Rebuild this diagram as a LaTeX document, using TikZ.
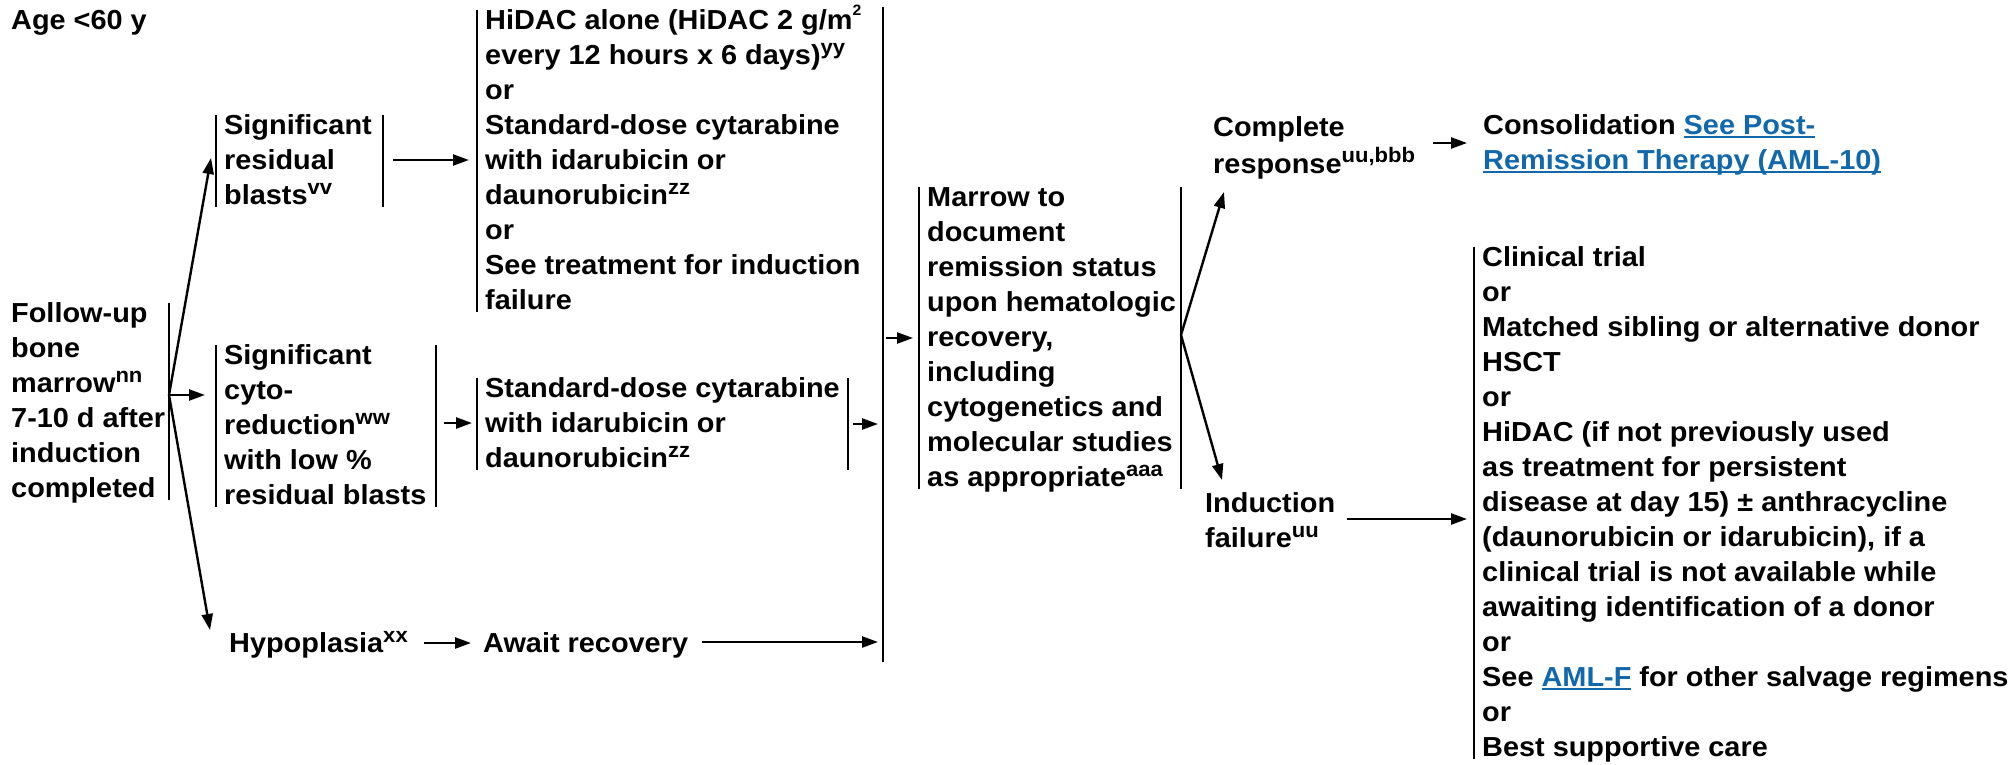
\documentclass[tikz,border=0pt]{standalone}
\usepackage{fontspec}
\setmainfont{Liberation Sans}[FakeStretch=1.05]
\usetikzlibrary{arrows.meta}
\definecolor{linkblue}{RGB}{18,104,172}
\newcommand\su[1]{\raisebox{0.37em}{\fontsize{21}{21}\selectfont #1}}
\newcommand\sq[1]{\raisebox{0.5em}{\fontsize{15}{15}\selectfont #1}}
\newsavebox\lkbox
\newcommand\lk[1]{\sbox\lkbox{\color{linkblue}#1}{\color{linkblue}\rlap{\rule[-4pt]{\wd\lkbox}{1.8pt}}}\usebox\lkbox}
\begin{document}
\begin{tikzpicture}[x=1pt,y=-1pt,
  every node/.style={font=\fontsize{27.5}{35}\selectfont\bfseries, inner xsep=8pt, inner ysep=0pt, align=left, anchor=north west},
  bar/.style={line width=2.4pt},
  arr/.style={line width=2.4pt, -{Triangle[length=16pt,width=11pt]}}]
\useasboundingbox (0,0) rectangle (2013,765);
% nodes
\node (age) at (3,4.5) {\strut Age <60 y\strut};
\node (fu) at (3,297.5) {\strut Follow-up\\bone\\marrow\su{nn}\\7-10 d after\\induction\\completed\strut};
\node (sig1) at (216,109.5) {\strut Significant\\residual\\blasts\su{vv}\strut};
\node (sig2) at (216,339.5) {\strut Significant\\cyto-\\reduction\su{ww}\\with low \%\\residual blasts\strut};
\node (hypo) at (221,627.5) {\strut Hypoplasia\su{xx}\strut};
\node (hidac) at (477,4.5) {\strut HiDAC alone (HiDAC 2 g/m\sq{2}\\every 12 hours x 6 days)\su{yy}\\or\\Standard-dose cytarabine\\with idarubicin or\\daunorubicin\su{zz}\\or\\See treatment for induction\\failure\strut};
\node (std2) at (477,372.5) {\strut Standard-dose cytarabine\\with idarubicin or\\daunorubicin\su{zz}\strut};
\node (await) at (475,627.5) {\strut Await recovery\strut};
\node (mar) at (919,181.5) {\strut Marrow to\\document\\remission status\\upon hematologic\\recovery,\\including\\cytogenetics and\\molecular studies\\as appropriate\su{aaa}\strut};
\node (cr) at (1205,111.5) {\strut Complete\\response\su{uu,bbb}\strut};
\node (indf) at (1197,487.5) {\strut Induction\\failure\su{uu}\strut};
\node (cons) at (1475,109.5) {\strut Consolidation \lk{See Post-}\\\lk{Remission Therapy (AML-10)}\strut};
\node (ct) at (1474,241.5) {\strut Clinical trial\\or\\Matched sibling or alternative donor\\HSCT\\or\\HiDAC (if not previously used\\as treatment for persistent\\disease at day 15) ± anthracycline\\(daunorubicin or idarubicin), if a\\clinical trial is not available while\\awaiting identification of a donor\\or\\See \lk{AML-F} for other salvage regimens\\or\\Best supportive care\strut};
% bars
\draw[bar] ([xshift=166pt,yshift=-5.5pt]fu.north west) -- ([xshift=166pt,yshift=7.5pt]fu.south west);
\draw[bar] ([yshift=-5.5pt]sig1.north west) -- ([yshift=7.5pt]sig1.south west);
\draw[bar] ([xshift=167pt,yshift=-5.5pt]sig1.north west) -- ([xshift=167pt,yshift=7.5pt]sig1.south west);
\draw[bar] ([yshift=-5.5pt]sig2.north west) -- ([yshift=7.5pt]sig2.south west);
\draw[bar] ([xshift=220pt,yshift=-5.5pt]sig2.north west) -- ([xshift=220pt,yshift=7.5pt]sig2.south west);
\draw[bar] ([yshift=-5.5pt]hidac.north west) -- ([yshift=7.5pt]hidac.south west);
\draw[bar] ([yshift=-5.5pt]std2.north west) -- ([yshift=7.5pt]std2.south west);
\draw[bar] ([xshift=371pt,yshift=-5.5pt]std2.north west) -- ([xshift=371pt,yshift=7.5pt]std2.south west);
\draw[bar] ([yshift=-5.5pt]mar.north west) -- ([yshift=7.5pt]mar.south west);
\draw[bar] ([xshift=262pt,yshift=-5.5pt]mar.north west) -- ([xshift=262pt,yshift=7.5pt]mar.south west);
\draw[bar] ([yshift=-5.5pt]ct.north west) -- ([yshift=7.5pt]ct.south west);
% collecting bar
\coordinate (colT) at (883,7);
\coordinate (colB) at (883,662);
\draw[bar] (colT) -- (colB);
% branch points and arrow ends
\coordinate (fb) at (169,395);
\coordinate (t1) at (211,158);
\coordinate (t2) at (205,395);
\coordinate (t3) at (210,630);
\coordinate (s1a) at (393,160); \coordinate (s1b) at (469,160);
\coordinate (s2a) at (444,423); \coordinate (s2b) at (472,423);
\coordinate (hya) at (424,643); \coordinate (hyb) at (471,643);
\coordinate (sda) at (853,424); \coordinate (sdb) at (878,424);
\coordinate (awa) at (702,642); \coordinate (awb) at (878,642);
\coordinate (cma) at (886,338); \coordinate (cmb) at (913,338);
\coordinate (mb) at (1181,335);
\coordinate (t4) at (1224,192);
\coordinate (t5) at (1222,480);
\coordinate (cra) at (1433,143); \coordinate (crb) at (1467,143);
\coordinate (ifa) at (1347,519); \coordinate (ifb) at (1467,519);
\draw[arr] (fb) -- (t1);
\draw[arr] (fb) -- (t2);
\draw[arr] (fb) -- (t3);
\draw[arr] (s1a) -- (s1b);
\draw[arr] (s2a) -- (s2b);
\draw[arr] (hya) -- (hyb);
\draw[arr] (sda) -- (sdb);
\draw[arr] (awa) -- (awb);
\draw[arr] (cma) -- (cmb);
\draw[arr] (mb) -- (t4);
\draw[arr] (mb) -- (t5);
\draw[arr] (cra) -- (crb);
\draw[arr] (ifa) -- (ifb);
\end{tikzpicture}
\end{document}
